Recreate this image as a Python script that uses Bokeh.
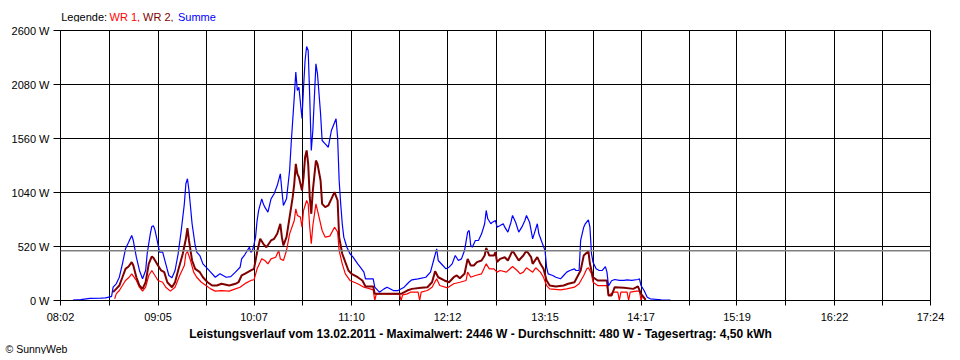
from bokeh.plotting import figure
from bokeh.models import Range1d, FixedTicker, Span, Title
from bokeh.layouts import column
from bokeh.core.properties import value
from bokeh.embed import file_html
from bokeh.resources import INLINE

# ---------------- data (times in minutes after midnight, power in W) ----------------
x_tick_labels = ["08:02", "09:05", "10:07", "11:10", "12:12", "13:15", "14:17", "15:19", "16:22", "17:24"]
y_tick_values = [0, 520, 1040, 1560, 2080, 2600]
average_w = 480

summe_t = [490, 495, 501, 508, 511, 514, 515, 516, 518, 520, 522, 524, 526, 528, 529, 531, 533, 535, 537, 538,
           540, 541, 542, 543, 544, 546, 548, 550, 552, 554, 556, 558, 560, 562, 563, 564, 565, 567, 569, 570,
           572, 574, 576, 579, 582, 585, 589, 592, 595, 598, 599, 601, 604, 605, 606, 607, 608, 609, 610, 612,
           613, 614, 616, 618, 620, 622, 624, 625, 626, 628, 630, 631, 632, 633, 634, 635, 636, 638, 639, 640,
           641, 642, 643, 644, 645, 646, 647, 648, 650, 651, 653, 655, 657, 660, 661, 662, 663, 664, 665, 667,
           669, 671, 674, 676, 678, 679, 684, 685, 688, 691, 693, 697, 700, 704, 707, 709, 713, 718, 721, 723,
           725, 726, 729, 731, 733, 735, 737, 739, 741, 743, 745, 746, 747, 748, 750, 752, 754, 756, 757, 758,
           760, 761, 763, 764, 766, 768, 769, 771, 773, 774, 776, 778, 780, 782, 783, 785, 787, 788, 790, 791,
           793, 795, 796, 797, 800, 802, 805, 807, 809, 811, 814, 815, 817, 818, 820, 821, 823, 824, 825, 826,
           828, 830, 832, 834, 835, 836, 838, 840, 843, 846, 848, 851, 855, 856, 857, 859, 861, 863, 870, 876]
summe_w = [5, 8, 20, 22, 25, 35, 40, 128, 161, 224, 353, 498, 561, 626, 580, 417, 289, 209, 289, 450,
           642, 713, 719, 680, 610, 465, 465, 353, 241, 219, 289, 450, 674, 931, 1124, 1172, 1059, 739, 530, 465,
           433, 353, 321, 273, 224, 257, 224, 230, 273, 320, 400, 440, 513, 465, 480, 540, 610, 770, 867, 979,
           931, 899, 850, 979, 1028, 1107, 1220, 1059, 915, 979, 1252, 1509, 1733, 1958, 2199, 2022, 2054, 1752, 2054, 2311,
           2446, 2407, 1958, 1444, 1637, 1958, 2279, 2183, 1798, 1541, 1509, 1476, 1637, 1750, 1573, 1156, 931, 739, 610, 513,
           450, 417, 353, 315, 273, 209, 209, 128, 80, 112, 128, 96, 96, 128, 176, 199, 209, 224, 273, 385,
           498, 385, 337, 305, 321, 353, 433, 385, 401, 481, 658, 674, 530, 513, 578, 578, 642, 739, 867, 787,
           739, 754, 770, 706, 722, 739, 706, 658, 754, 819, 754, 658, 706, 770, 819, 754, 594, 642, 739, 642,
           561, 481, 321, 257, 241, 224, 209, 241, 273, 289, 305, 289, 289, 578, 706, 739, 777, 706, 450, 369,
           305, 289, 289, 327, 273, 140, 190, 202, 193, 193, 199, 193, 202, 209, 144, 96, 32, 16, 7, 5]

wr2_t = [516, 518, 520, 522, 524, 526, 528, 529, 531, 533, 535, 537, 539, 541, 542, 545, 547, 549, 551, 554,
         556, 558, 561, 563, 564, 565, 567, 569, 572, 574, 577, 580, 583, 586, 591, 595, 597, 599, 601, 605,
         607, 609, 611, 613, 615, 618, 620, 622, 624, 625, 626, 628, 630, 632, 633, 634, 635, 636, 638, 639,
         640, 641, 642, 643, 644, 645, 647, 648, 650, 651, 653, 655, 657, 659, 661, 662, 664, 666, 668, 670,
         674, 677, 679, 684, 685, 689, 697, 702, 706, 709, 715, 719, 722, 724, 726, 730, 733, 736, 738, 740,
         743, 745, 747, 749, 751, 754, 756, 757, 759, 762, 763, 764, 766, 769, 771, 774, 776, 778, 781, 783,
         786, 787, 790, 792, 794, 796, 798, 802, 807, 810, 814, 818, 820, 823, 824, 826, 829, 835, 836, 838,
         840, 846, 852, 855, 857, 860]
wr2_w = [80, 112, 144, 224, 305, 327, 369, 340, 224, 144, 112, 176, 353, 424, 411, 337, 289, 273, 176, 128,
         176, 289, 450, 594, 697, 578, 385, 305, 273, 224, 176, 144, 144, 161, 144, 161, 176, 241, 257, 289,
         305, 465, 594, 546, 513, 578, 594, 642, 739, 610, 530, 610, 802, 995, 1124, 1316, 1220, 1188, 1059, 1188,
         1380, 1445, 1316, 995, 835, 1059, 1348, 1316, 1156, 931, 899, 915, 979, 1043, 963, 610, 450, 369, 289, 257,
         224, 193, 135, 135, 64, 64, 64, 64, 96, 112, 122, 128, 176, 282, 224, 193, 176, 224, 241, 215,
         257, 401, 337, 337, 369, 385, 433, 507, 433, 433, 465, 369, 401, 417, 385, 481, 433, 385, 433, 481,
         417, 353, 417, 353, 305, 193, 144, 135, 144, 161, 176, 289, 433, 475, 353, 224, 193, 193, 48, 48,
         128, 122, 112, 135, 64, 7]

wr1_t = [517, 518, 520, 522, 524, 526, 528, 531, 533, 535, 537, 539, 541, 543, 545, 548, 550, 553, 556, 559,
         562, 563, 564, 566, 568, 570, 573, 576, 579, 582, 586, 591, 595, 598, 600, 602, 605, 607, 609, 612,
         614, 616, 618, 621, 623, 624, 626, 628, 630, 633, 634, 635, 637, 638, 639, 641, 642, 643, 644, 645,
         647, 648, 650, 651, 653, 656, 659, 661, 662, 664, 666, 669, 674, 678, 682, 684, 685, 686, 691, 697,
         701, 702, 703, 706, 708, 713, 714, 715, 719, 722, 725, 727, 732, 736, 740, 744, 745, 747, 750, 754,
         757, 759, 762, 764, 766, 770, 774, 777, 779, 781, 783, 787, 789, 792, 794, 796, 798, 805, 809, 814,
         817, 820, 822, 823, 825, 826, 829, 835, 836, 839, 842, 843, 844, 848, 849, 850, 854, 856, 857, 858,
         860]
wr1_w = [16, 64, 96, 144, 193, 219, 257, 193, 128, 90, 128, 241, 289, 241, 193, 176, 128, 90, 128, 241,
         337, 450, 472, 385, 273, 224, 176, 144, 112, 90, 96, 90, 112, 128, 150, 170, 193, 200, 305, 401,
         385, 353, 401, 417, 481, 401, 385, 481, 642, 770, 883, 819, 803, 706, 867, 963, 930, 706, 546, 720,
         930, 867, 739, 674, 610, 620, 706, 660, 481, 353, 257, 193, 161, 128, 112, 103, 0, 64, 64, 60,
         60, 0, 55, 64, 80, 80, 0, 80, 96, 128, 209, 144, 122, 161, 176, 193, 273, 224, 241, 257,
         353, 305, 305, 273, 289, 273, 327, 289, 257, 273, 315, 273, 315, 273, 224, 144, 112, 103, 112, 128,
         161, 241, 305, 315, 257, 176, 144, 144, 48, 80, 80, 0, 80, 80, 0, 80, 90, 90, 0, 48,
         7]

legend_texts = ["Legende:", "WR 1,", "WR 2,", "Summe"]
legend_colors = ["black", "#ff0000", "#800000", "#0000ff"]
title_text = ("Leistungsverlauf vom 13.02.2011 - Maximalwert: 2446 W - "
              "Durchschnitt: 480 W - Tagesertrag: 4,50 kWh")
copyright_text = "\u00a9 SunnyWeb"

# ---------------- layout ----------------
FONT = "Liberation Sans"
W = 952
LEFT, RIGHT, TOP, BOTTOM = 60, 22, 8, 26
FRAME_W, FRAME_H = 870, 270
HEAD_H, FOOT_H = 22, 28
PX0, PX1 = LEFT, LEFT + FRAME_W      # page-pixel span of the (column-aligned) frames

def to_min(s):
    h, m = s.split(":")
    return int(h) * 60 + int(m)

major = [to_min(s) for s in x_tick_labels]
minor = [(a + b) / 2 for a, b in zip(major[:-1], major[1:])]

def strip_figure(h, frame_h):
    f = figure(width=W, height=h, output_backend="svg", toolbar_location=None,
               x_range=Range1d(PX0, PX1), y_range=Range1d(frame_h, 0),
               min_border=0, min_border_left=LEFT, min_border_right=RIGHT,
               min_border_top=0, min_border_bottom=0)
    f.axis.visible = False
    f.grid.visible = False
    f.outline_line_color = None
    f.background_fill_color = "white"
    f.border_fill_color = "white"
    return f

# header: coloured legend text (x in page pixels)
head = strip_figure(HEAD_H, HEAD_H)
head.text(x=[60.7, 109, 142.5, 177.5], y=[16.7] * 4, text=legend_texts, text_color=legend_colors,
          text_font=value(FONT), text_font_size=value("11px"), text_baseline="middle", text_align="left")

# main chart
p = figure(width=W, height=TOP + FRAME_H + BOTTOM, output_backend="svg", toolbar_location=None,
           x_range=Range1d(major[0], major[-1]), y_range=Range1d(y_tick_values[0], y_tick_values[-1]),
           min_border_left=LEFT, min_border_right=RIGHT, min_border_top=TOP, min_border_bottom=BOTTOM)
p.background_fill_color = "white"
p.border_fill_color = "white"
p.outline_line_color = "black"
p.outline_line_width = 1

p.xaxis.ticker = FixedTicker(ticks=major, minor_ticks=minor)
p.xaxis.major_label_overrides = {m: s for m, s in zip(major, x_tick_labels)}
p.yaxis.ticker = FixedTicker(ticks=y_tick_values)
p.yaxis.major_label_overrides = {v: f"{v} W" for v in y_tick_values}
for ax in (p.xaxis, p.yaxis):
    ax.axis_line_color = "black"
    ax.major_tick_line_color = "black"
    ax.major_label_text_font = FONT
    ax.major_label_text_font_size = "11px"
    ax.major_label_text_color = "black"
    ax.major_tick_in = 0
p.xaxis.major_tick_out = 5
p.xaxis.minor_tick_out = 5
p.xaxis.minor_tick_in = 0
p.xaxis.minor_tick_line_color = "black"
p.xaxis.major_label_standoff = 5
p.yaxis.major_tick_out = 7
p.yaxis.minor_tick_line_color = None
p.yaxis.major_label_standoff = 4

p.xgrid.grid_line_color = "black"
p.xgrid.grid_line_alpha = 1
p.xgrid.minor_grid_line_color = "black"
p.ygrid.grid_line_color = "black"
p.ygrid.grid_line_alpha = 1

p.line(wr1_t, wr1_w, line_color="#ff0000", line_width=1.2)
p.line(wr2_t, wr2_w, line_color="#800000", line_width=2)
p.line(summe_t, summe_w, line_color="#0000ff", line_width=1.2)

p.add_layout(Span(location=average_w, dimension="width", line_color="#808080", line_width=1.5))

# footer: bold summary line (glyph, inside frame) and copyright (title panel, may sit left of frame)
COPY_PANEL = 13
foot = strip_figure(FOOT_H, FOOT_H - COPY_PANEL)
foot.text(x=[480], y=[8.5], text=[title_text], text_color="black", text_font=value(FONT),
          text_font_size=value("12px"), text_font_style="bold", text_baseline="middle", text_align="center")
foot.add_layout(Title(text=copyright_text, align="left", offset=5 - LEFT, standoff=0,
                      text_font=FONT, text_font_size="10.5px", text_font_style="normal",
                      text_color="black"), "below")

layout = column(head, p, foot, spacing=0)
open("out.html", "w").write(file_html(layout, INLINE))
